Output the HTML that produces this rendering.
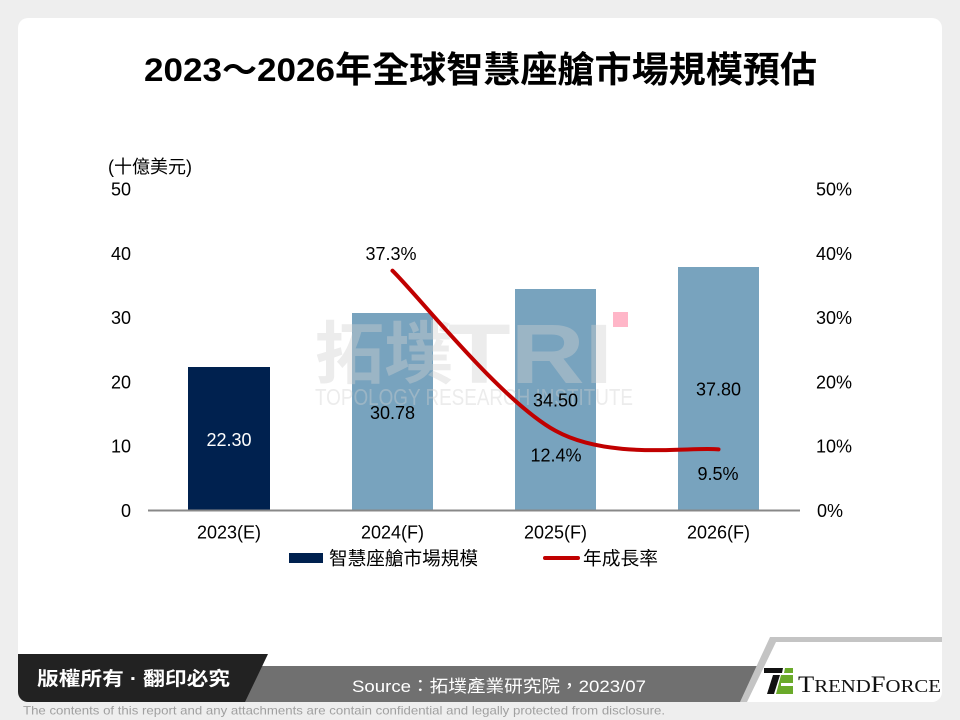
<!DOCTYPE html>
<html><head><meta charset="utf-8"><style>
html,body{margin:0;padding:0;background:#eeeeee;}
svg{display:block;}
text{font-family:"Liberation Sans","Noto Sans CJK TC",sans-serif;}
</style></head><body>
<svg width="960" height="720" viewBox="0 0 960 720" xmlns="http://www.w3.org/2000/svg">
<defs><clipPath id="card"><rect x="18" y="18" width="924" height="684" rx="10"/></clipPath></defs>
<rect width="960" height="720" fill="#eeeeee"/>
<rect x="18" y="18" width="924" height="684" rx="10" fill="#ffffff"/>

<!-- title -->
<text x="144" y="81" font-size="32" font-weight="bold" textLength="191" lengthAdjust="spacingAndGlyphs" fill="#000">2023～2026</text>
<text x="335" y="82" font-size="36" font-weight="bold" textLength="482" lengthAdjust="spacingAndGlyphs" fill="#000" style="font-family:'Noto Sans CJK TC','Liberation Sans',sans-serif">年全球智慧座艙市場規模預估</text>

<!-- unit -->
<text x="108" y="173" font-size="18" fill="#000">(十億美元)</text>

<!-- left axis -->
<g font-size="18" fill="#000" text-anchor="end">
<text x="131" y="195.5">50</text>
<text x="131" y="259.8">40</text>
<text x="131" y="324.1">30</text>
<text x="131" y="388.4">20</text>
<text x="131" y="452.7">10</text>
<text x="131" y="517">0</text>
</g>
<!-- right axis -->
<g font-size="18" fill="#000">
<text x="816" y="195.5">50%</text>
<text x="816" y="259.8">40%</text>
<text x="816" y="324.1">30%</text>
<text x="816" y="388.4">20%</text>
<text x="816" y="452.7">10%</text>
<text x="817" y="517">0%</text>
</g>

<!-- bars -->
<rect x="188" y="367" width="82" height="143.5" fill="#00214f"/>
<rect x="352" y="313" width="81" height="197.5" fill="#78a3be"/>
<rect x="515" y="289" width="81" height="221.5" fill="#78a3be"/>
<rect x="678" y="267" width="81" height="243.5" fill="#78a3be"/>

<!-- watermark -->
<g fill="#d0d0d0" opacity="0.4">
<text x="315" y="378" font-size="68" font-weight="bold" textLength="138" lengthAdjust="spacingAndGlyphs" style="font-family:'Noto Sans CJK TC',sans-serif">拓墣</text>
<text x="448" y="383" font-size="84" font-weight="bold" textLength="165" lengthAdjust="spacingAndGlyphs">TRI</text>
<text x="315" y="405" font-size="23" textLength="318" lengthAdjust="spacingAndGlyphs">TOPOLOGY RESEARCH INSTITUTE</text>
</g>
<rect x="613" y="312" width="15" height="15" fill="#ffb6c8"/>

<!-- axis line -->
<line x1="148" y1="510.5" x2="800" y2="510.5" stroke="#888888" stroke-width="2"/>

<!-- line series -->
<path d="M392.5,270.7 C419.7,297.4 501.2,401.0 555.5,430.8 C609.8,460.6 691.3,446.3 718.5,449.4" fill="none" stroke="#c00000" stroke-width="4" stroke-linecap="round"/>

<!-- bar labels -->
<g font-size="18" text-anchor="middle">
<text x="229" y="446" fill="#ffffff">22.30</text>
<text x="392.5" y="419" fill="#000">30.78</text>
<text x="555.5" y="406.5" fill="#000">34.50</text>
<text x="718.5" y="395.5" fill="#000">37.80</text>
<text x="391" y="260" fill="#000">37.3%</text>
<text x="556" y="461.5" fill="#000">12.4%</text>
<text x="718" y="480" fill="#000">9.5%</text>
</g>

<!-- categories -->
<g font-size="18" text-anchor="middle" fill="#000">
<text x="229" y="538.5">2023(E)</text>
<text x="392.5" y="538.5">2024(F)</text>
<text x="555.5" y="538.5">2025(F)</text>
<text x="718.5" y="538.5">2026(F)</text>
</g>

<!-- legend -->
<rect x="289" y="553" width="34" height="10" fill="#00214f"/>
<text x="329" y="565" font-size="18.5" textLength="149" lengthAdjust="spacingAndGlyphs" fill="#000">智慧座艙市場規模</text>
<line x1="545" y1="558" x2="578" y2="558" stroke="#c00000" stroke-width="4" stroke-linecap="round"/>
<text x="583" y="565" font-size="18.5" textLength="75" lengthAdjust="spacingAndGlyphs" fill="#000">年成長率</text>

<!-- footer -->
<g clip-path="url(#card)">
<polygon points="230,666 760,666 742,702 230,702" fill="#707070"/>
<polygon points="18,654 268,654 245,702 18,702" fill="#222222"/>
<polygon points="770,637 942,637 942,642 776,642 747,702 740,702" fill="#c4c4c4"/>
</g>
<text x="37" y="685" font-size="19" font-weight="bold" fill="#ffffff" textLength="193" lengthAdjust="spacingAndGlyphs">版權所有 · 翻印必究</text>
<text x="352" y="692" font-size="17" fill="#ffffff" textLength="294" lengthAdjust="spacingAndGlyphs">Source：拓墣產業研究院，2023/07</text>

<!-- trendforce logo -->
<polygon points="764,668 783,668 782,673 764,673" fill="#111"/>
<polygon points="773,675 780,675 774,694 767,694" fill="#111"/>
<polygon points="785,668 793,668 793,673 784,673" fill="#6aaa2a"/>
<polygon points="781,675 793,675 793,694 776,694" fill="#6aaa2a"/>
<rect x="781" y="683" width="12" height="3" fill="#ffffff"/>
<text x="798" y="692" font-size="18" fill="#111" textLength="143" lengthAdjust="spacingAndGlyphs" style="font-family:'Liberation Serif',serif"><tspan font-size="23">T</tspan>REND<tspan font-size="23">F</tspan>ORCE</text>

<text x="23" y="714.5" font-size="12" fill="#a0a0a0" textLength="642" lengthAdjust="spacingAndGlyphs">The contents of this report and any attachments are contain confidential and legally protected from disclosure.</text>
</svg>
</body></html>
